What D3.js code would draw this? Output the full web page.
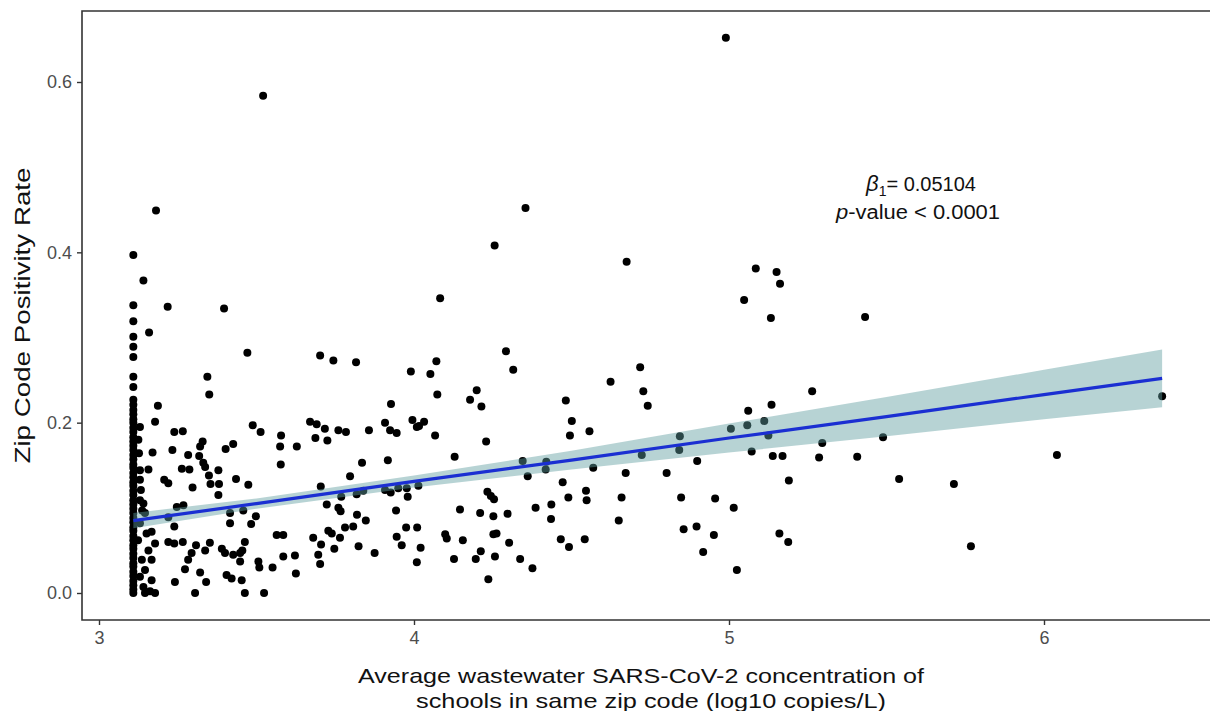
<!DOCTYPE html>
<html>
<head>
<meta charset="utf-8">
<script src="https://cdn.jsdelivr.net/npm/d3@7"></script>
<style>
  body { margin: 0; background: #fff; }
  svg { display: block; font-family: "Liberation Sans", Arial, sans-serif; }
</style>
</head>
<body>
<svg id="chart" width="1212" height="711"></svg>
<script>
// points: average log10 concentration (x) and zip positivity rate (y)
const pointX = [
  4.990, 3.521, 4.354, 3.181, 4.256, 4.675, 5.085, 5.151, 5.162, 3.141,
  4.083, 5.048, 5.133, 5.432, 3.218, 3.397, 3.159, 4.292, 3.471, 4.315,
  3.702, 3.744, 3.816, 4.071, 3.990, 4.052, 4.074, 3.927, 4.199, 4.178,
  4.214, 4.482, 4.501, 4.495, 4.557, 3.344, 3.350, 3.187, 3.178, 3.239,
  3.266, 3.233, 3.170, 3.157, 3.207, 3.220, 3.247, 3.220, 3.239, 3.220,
  3.239, 3.241,
  // left cluster
  3.329, 3.321, 3.283, 3.318, 3.331, 3.337, 3.263, 3.287, 3.379, 3.349,
  3.354, 3.381, 3.297, 3.435, 3.474, 3.379, 3.402, 3.426, 3.488, 3.513,
  3.578, 3.575, 3.628, 3.577, 3.268, 3.416, 3.416, 3.458, 3.498, 3.483,
  3.564, 3.585, 3.266, 3.308, 3.352, 3.337, 3.294, 3.283, 3.273, 3.390,
  3.400, 3.426, 3.448, 3.455, 3.463, 3.448, 3.506, 3.509, 3.551, 3.585,
  3.622, 3.625, 3.321, 3.340, 3.405, 3.421, 3.453, 3.305, 3.463, 3.524,
  // second column
  3.130, 3.130, 3.133, 3.141, 3.146, 3.130, 3.151, 3.167, 3.178, 3.157,
  3.136, 3.167, 3.146, 3.130, 3.167, 3.141, 3.162, 3.178, 3.146, 3.130,
  3.125, 3.127, 3.130, 3.124, 3.137,
  // main column
  3.109, 3.109, 3.109, 3.109, 3.109, 3.109, 3.109, 3.109, 3.109, 3.109,
  3.109, 3.109, 3.109, 3.109, 3.109, 3.109, 3.109, 3.109, 3.109, 3.109,
  3.109, 3.109, 3.109, 3.109, 3.109, 3.109, 3.109, 3.109, 3.109, 3.109,
  3.109, 3.109, 3.109, 3.109, 3.109, 3.109, 3.109, 3.109, 3.109, 3.109,
  3.109, 3.109, 3.109, 3.109, 3.109, 3.109, 3.109, 3.109, 3.109, 3.109,
  3.109, 3.109,
  // middle
  3.670, 3.691, 3.717, 3.687, 3.725, 3.760, 3.784, 3.857, 3.908, 3.924,
  3.945, 3.995, 4.009, 4.032, 4.016, 4.067, 4.229, 4.129, 3.917, 3.835,
  3.797, 3.704, 4.014, 3.977, 3.950, 3.926, 3.908, 3.839, 3.818, 3.769,
  3.980, 4.345, 4.361, 4.420, 4.418, 4.472, 4.490, 4.233, 4.244, 4.254,
  3.723, 3.760, 3.767, 3.819, 3.847, 3.943, 4.146, 4.210, 4.252, 4.297,
  4.386, 4.436, 4.435, 3.728, 3.739, 3.680, 3.765, 3.781, 3.807, 3.705,
  3.747, 3.824, 3.875, 3.945, 3.975, 4.010, 3.961, 4.021, 4.099, 4.104,
  4.155, 4.252, 4.262, 4.302, 4.212, 4.196, 4.257, 4.337, 4.376, 4.466,
  4.492, 3.696, 3.702, 4.009, 4.127, 4.236,
  // right
  4.718, 4.624, 4.728, 4.742, 5.264, 5.135, 5.061, 5.058, 5.112, 5.006,
  4.844, 5.125, 5.296, 4.842, 4.723, 5.072, 5.139, 5.170, 5.286, 5.407,
  4.899, 4.569, 4.672, 4.802, 5.190, 4.546, 4.548, 4.659, 4.848, 4.956,
  5.015, 4.650, 4.856, 4.897, 4.952, 5.160, 5.188, 4.542, 4.918, 5.025,
  5.489, 6.375, 5.540, 5.714, 5.768, 6.041
];
const pointY = [
  0.652, 0.584, 0.452, 0.449, 0.408, 0.389, 0.381, 0.377, 0.363, 0.367,
  0.346, 0.344, 0.323, 0.324, 0.336, 0.334, 0.306, 0.284, 0.282, 0.262,
  0.279, 0.273, 0.271, 0.272, 0.260, 0.257, 0.233, 0.222, 0.238, 0.227,
  0.219, 0.226, 0.202, 0.185, 0.190, 0.254, 0.233, 0.220, 0.201, 0.189,
  0.190, 0.168, 0.165, 0.145, 0.133, 0.129, 0.101, 0.089, 0.078, 0.060,
  0.058, 0.013,
  0.178, 0.172, 0.162, 0.161, 0.153, 0.148, 0.146, 0.145, 0.144, 0.138,
  0.128, 0.128, 0.124, 0.134, 0.127, 0.115, 0.169, 0.175, 0.197, 0.189,
  0.185, 0.172, 0.172, 0.151, 0.103, 0.094, 0.082, 0.097, 0.090, 0.081,
  0.068, 0.068, 0.060, 0.056, 0.059, 0.050, 0.047, 0.039, 0.028, 0.052,
  0.047, 0.045, 0.047, 0.050, 0.060, 0.037, 0.037, 0.030, 0.030, 0.043,
  0.044, 0.023, 0.024, 0.013, 0.021, 0.017, 0.015, 0.000, 0.000, 0.000,
  0.144, 0.133, 0.121, 0.105, 0.094, 0.082, 0.070, 0.072, 0.058, 0.050,
  0.039, 0.039, 0.027, 0.019, 0.015, 0.007, 0.002, 0.000, 0.000, 0.195,
  0.180, 0.164, 0.109, 0.062, 0.097,
  0.397, 0.338, 0.319, 0.301, 0.289, 0.277, 0.254, 0.242, 0.227, 0.221,
  0.215, 0.210, 0.204, 0.200, 0.194, 0.189, 0.183, 0.178, 0.173, 0.168,
  0.162, 0.157, 0.151, 0.147, 0.141, 0.136, 0.130, 0.126, 0.120, 0.115,
  0.109, 0.104, 0.099, 0.094, 0.088, 0.083, 0.077, 0.073, 0.067, 0.062,
  0.056, 0.052, 0.046, 0.041, 0.035, 0.031, 0.025, 0.020, 0.014, 0.009,
  0.004, 0.000,
  0.201, 0.198, 0.193, 0.182, 0.179, 0.191, 0.189, 0.191, 0.200, 0.191,
  0.188, 0.203, 0.195, 0.201, 0.196, 0.185, 0.178, 0.160, 0.156, 0.153,
  0.137, 0.125, 0.126, 0.123, 0.123, 0.118, 0.121, 0.120, 0.116, 0.113,
  0.113, 0.155, 0.137, 0.154, 0.145, 0.130, 0.112, 0.119, 0.114, 0.110,
  0.104, 0.100, 0.096, 0.092, 0.085, 0.097, 0.098, 0.094, 0.090, 0.093,
  0.100, 0.104, 0.087, 0.073, 0.070, 0.065, 0.065, 0.077, 0.078, 0.057,
  0.052, 0.055, 0.047, 0.066, 0.077, 0.077, 0.056, 0.053, 0.069, 0.064,
  0.062, 0.069, 0.070, 0.059, 0.049, 0.040, 0.043, 0.040, 0.029, 0.063,
  0.054, 0.045, 0.034, 0.036, 0.040, 0.016,
  0.265, 0.248, 0.237, 0.220, 0.237, 0.221, 0.214, 0.197, 0.202, 0.193,
  0.184, 0.185, 0.176, 0.168, 0.162, 0.166, 0.161, 0.161, 0.159, 0.160,
  0.155, 0.147, 0.141, 0.141, 0.132, 0.120, 0.109, 0.112, 0.112, 0.111,
  0.100, 0.085, 0.075, 0.078, 0.068, 0.070, 0.060, 0.063, 0.048, 0.027,
  0.183, 0.231, 0.134, 0.128, 0.055, 0.162
];

// fitted line with 95% band, read at a few x positions
const fitX    = [3.109, 3.5, 4.0, 4.5, 5.0, 5.5, 6.0, 6.375];
const fitY    = [0.085, 0.105, 0.131, 0.156, 0.182, 0.207, 0.233, 0.252];
const fitLow  = [0.076, 0.099, 0.124, 0.145, 0.165, 0.184, 0.204, 0.218];
const fitHigh = [0.094, 0.111, 0.138, 0.167, 0.199, 0.230, 0.262, 0.286];

const xTicks = [3, 4, 5, 6];
const yTicks = [0, 0.2, 0.4, 0.6];

const svg = d3.select('#chart');

const x = d3.scaleLinear().domain([3, 6]).range([99, 1044]);
const y = d3.scaleLinear().domain([0, 0.6]).range([593, 82]);

const panel = { left: 82, top: 11, right: 1210, bottom: 620 };

// points
const pts = pointX.map((v, i) => ({ x: v, y: pointY[i] }));
svg.append('g')
  .selectAll('circle')
  .data(pts)
  .enter().append('circle')
  .attr('cx', d => x(d.x))
  .attr('cy', d => y(d.y))
  .attr('r', 4)
  .attr('fill', '#000');

// confidence band
const band = fitX.map((v, i) => ({ x: v, lo: fitLow[i], hi: fitHigh[i], y: fitY[i] }));
svg.append('path')
  .datum(band)
  .attr('d', d3.area().x(d => x(d.x)).y0(d => y(d.lo)).y1(d => y(d.hi)))
  .attr('fill', '#5f9ea0')
  .attr('opacity', 0.45);

svg.append('path')
  .datum(band)
  .attr('d', d3.line().x(d => x(d.x)).y(d => y(d.y)))
  .attr('fill', 'none')
  .attr('stroke', '#1b2fd2')
  .attr('stroke-width', 3.2);

// panel border (no line on the right, as in the source)
svg.append('path')
  .attr('d', `M${panel.right},${panel.top}H${panel.left}V${panel.bottom}H${panel.right}`)
  .attr('fill', 'none')
  .attr('stroke', '#333')
  .attr('stroke-width', 1.6);

// axes
const xAxis = svg.append('g')
  .attr('transform', `translate(0,${panel.bottom})`)
  .call(d3.axisBottom(x).tickValues(xTicks).tickFormat(d3.format('d')).tickSize(5).tickPadding(6));
xAxis.select('.domain').remove();

const yAxis = svg.append('g')
  .attr('transform', `translate(${panel.left},0)`)
  .call(d3.axisLeft(y).tickValues(yTicks).tickFormat(d3.format('.1f')).tickSize(5).tickPadding(5));
yAxis.select('.domain').remove();

svg.selectAll('.tick line').attr('stroke', '#333').attr('stroke-width', 1.4);
svg.selectAll('.tick text')
  .attr('fill', '#4d4d4d')
  .style('font-size', '18px')
  .style('font-family', '"Liberation Sans", Arial, sans-serif');

// axis titles (source is a bit wider than the font, so stretch with textLength)
svg.append('text')
  .attr('x', 641).attr('y', 683)
  .attr('text-anchor', 'middle')
  .attr('textLength', 566).attr('lengthAdjust', 'spacingAndGlyphs')
  .style('font-size', '21px')
  .attr('fill', '#111')
  .text('Average wastewater SARS-CoV-2 concentration of');
svg.append('text')
  .attr('x', 651).attr('y', 708)
  .attr('text-anchor', 'middle')
  .attr('textLength', 470).attr('lengthAdjust', 'spacingAndGlyphs')
  .style('font-size', '21px')
  .attr('fill', '#111')
  .text('schools in same zip code (log10 copies/L)');

svg.append('text')
  .attr('transform', `translate(30,${(panel.top + panel.bottom) / 2}) rotate(-90)`)
  .attr('text-anchor', 'middle')
  .attr('textLength', 296).attr('lengthAdjust', 'spacingAndGlyphs')
  .style('font-size', '22px')
  .attr('fill', '#111')
  .text('Zip Code Positivity Rate');

// annotation
const note = svg.append('g').style('font-size', '20px').attr('fill', '#111');
const l1 = note.append('text').attr('x', 921).attr('y', 191).attr('text-anchor', 'middle');
l1.append('tspan').style('font-style', 'italic').style('font-size', '22px').text('β');
l1.append('tspan').attr('dy', 5).style('font-size', '14px').text('1');
l1.append('tspan').attr('dy', -5).text('= 0.05104');
const l2 = note.append('text').attr('x', 918).attr('y', 219).attr('text-anchor', 'middle')
  .attr('textLength', 164).attr('lengthAdjust', 'spacingAndGlyphs');
l2.append('tspan').style('font-style', 'italic').text('p');
l2.append('tspan').text('-value < 0.0001');
</script>
</body>
</html>
